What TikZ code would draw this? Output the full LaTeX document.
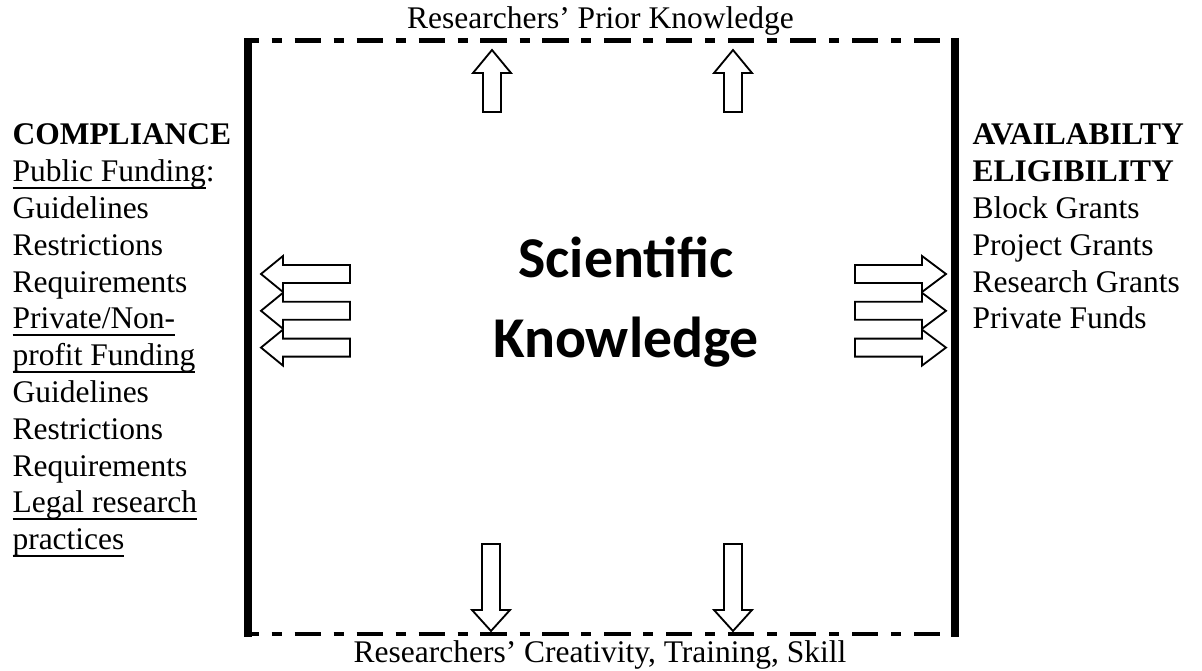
\documentclass[tikz,border=0pt]{standalone}
\usepackage{fontspec}
\setmainfont{Liberation Serif}
\newfontfamily\calibri{Carlito}
\newcommand\myul[1]{\setbox0\hbox{#1}\rlap{\rule[-2.6pt]{\wd0}{0.8pt}}\box0}
\tikzset{
  txt/.style={inner sep=0pt, font=\fontsize{12pt}{14pt}\selectfont, anchor=base west},
  ctxt/.style={inner sep=0pt, font=\fontsize{12pt}{14pt}\selectfont, anchor=base},
  bigtxt/.style={inner sep=0pt, font=\calibri\bfseries\fontsize{22pt}{30pt}\selectfont, anchor=base},
  boxside/.style={line width=2.7pt},
  boxdash/.style={line width=1.9pt, dash pattern=on 9.91pt off 4.95pt on 3.81pt off 4.95pt, dash phase=5.9pt},
  harrow/.style={draw, line width=0.7pt, fill=white, line join=miter},
  uparrow/.pic={\draw[harrow] (0,0) -- (19,23) -- (9,23) -- (9,62) -- (-9,62) -- (-9,23) -- (-19,23) -- cycle;},
  downarrow/.pic={\draw[harrow] (0,0) -- (19,-21) -- (9,-21) -- (9,-87) -- (-9,-87) -- (-9,-21) -- (-19,-21) -- cycle;},
  leftarrow/.pic={\draw[harrow] (0,0) -- (22,-18) -- (22,-9) -- (89,-9) -- (89,9) -- (22,9) -- (22,18) -- cycle;},
  rightarrow/.pic={\draw[harrow] (0,0) -- (-24,-18) -- (-24,-9) -- (-91,-9) -- (-91,9) -- (-24,9) -- (-24,18) -- cycle;}
}
\begin{document}
\begin{tikzpicture}[x=0.381pt, y=-0.381pt]
\useasboundingbox (0,0) rectangle (1202,671);
% box
\coordinate (tl) at (248,41);
\coordinate (tr) at (955,41);
\coordinate (bl) at (248,634);
\coordinate (br) at (955,634);
\draw[boxdash] (tl) -- (tr);
\draw[boxdash] (bl) -- (br);
\draw[boxside] ([yshift=1.2pt]tl) -- ([yshift=-1.2pt]bl);
\draw[boxside] ([yshift=1.2pt]tr) -- ([yshift=-1.2pt]br);
% arrows
\pic at (492,50) {uparrow};
\pic at (733,50) {uparrow};
\pic at (491,631) {downarrow};
\pic at (733,631) {downarrow};
\foreach \yy in {274,310.8,347.6} {
  \pic at (261,\yy) {leftarrow};
  \pic at (946,\yy) {rightarrow};
}
% top / bottom labels
\node[ctxt] (top) at (600.5,29) {Researchers’ Prior Knowledge};
\node[ctxt] (bot) at (600,663) {Researchers’ Creativity, Training, Skill};
% centre
\node[bigtxt] (sk1) at (626,278) {Scientific};
\node[bigtxt] (sk2) at (626,358) {Knowledge};
% left column
\node[txt] (l1) at (12,145) {\textbf{COMPLIANCE}};
\node[txt] (l2) at (12,181.8) {\myul{Public Funding}:};
\node[txt] (l3) at (12,218.6) {Guidelines};
\node[txt] (l4) at (12,255.4) {Restrictions};
\node[txt] (l5) at (12,292.2) {Requirements};
\node[txt] (l6) at (12,329) {\myul{Private/Non-}};
\node[txt] (l7) at (12,365.8) {\myul{profit Funding}};
\node[txt] (l8) at (12,402.6) {Guidelines};
\node[txt] (l9) at (12,439.4) {Restrictions};
\node[txt] (l10) at (12,476.2) {Requirements};
\node[txt] (l11) at (12,513) {\myul{Legal research}};
\node[txt] (l12) at (12,549.8) {\myul{practices}};
% right column
\node[txt] (r1) at (972,145) {\textbf{AVAILABILTY}};
\node[txt] (r2) at (972,181.8) {\textbf{ELIGIBILITY}};
\node[txt] (r3) at (972,218.6) {Block Grants};
\node[txt] (r4) at (972,255.4) {Project Grants};
\node[txt] (r5) at (972,292.2) {Research Grants};
\node[txt] (r6) at (972,329) {Private Funds};
\end{tikzpicture}
\end{document}
